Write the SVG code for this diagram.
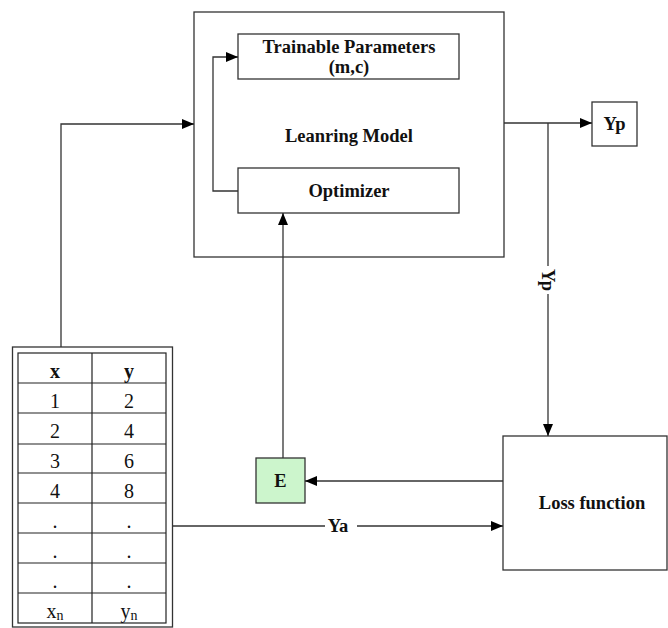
<svg xmlns="http://www.w3.org/2000/svg" width="668" height="628" viewBox="0 0 668 628">
<defs>
<marker id="ah" markerWidth="12" markerHeight="10" refX="12" refY="5" orient="auto" markerUnits="userSpaceOnUse">
<path d="M0,0 L12,5 L0,10 Z" fill="#000"/>
</marker>
<style>
.box{fill:#fff;stroke:#333;stroke-width:1.3}
.ln{fill:none;stroke:#333;stroke-width:1.3}
.lbl{font-family:"Liberation Serif","Times New Roman",serif;font-weight:bold;font-size:18.5px;fill:#111;text-anchor:middle}
.cell{font-family:"Liberation Serif","Times New Roman",serif;font-size:20px;fill:#111;text-anchor:middle}
.grid{fill:none;stroke:#222;stroke-width:1.2}
</style>
</defs>
<rect width="668" height="628" fill="#fff"/>
<g id="learning-model">
<rect class="box" x="194" y="12" width="310" height="245"/>
<text class="lbl" x="349" y="142">Leanring Model</text>
</g>
<g id="trainable-parameters">
<rect class="box" x="238" y="34" width="221" height="45"/>
<text class="lbl" x="349" y="53">Trainable Parameters</text>
<text class="lbl" x="349" y="73">(m,c)</text>
</g>
<g id="optimizer">
<rect class="box" x="238" y="168" width="221" height="45"/>
<text class="lbl" x="349" y="197">Optimizer</text>
</g>
<g id="yp">
<rect class="box" x="592" y="102" width="45" height="44"/>
<text class="lbl" x="614.5" y="130">Yp</text>
</g>
<g id="e">
<rect class="box" x="256" y="458" width="49" height="45" style="fill:#ccf5cc"/>
<text class="lbl" x="280.5" y="487">E</text>
</g>
<g id="loss-function">
<rect class="box" x="503" y="436" width="164" height="134"/>
<text class="lbl" x="592" y="509">Loss function</text>
</g>
<g id="data-table">
<rect class="box" x="12.5" y="347" width="160" height="280"/>
<rect class="grid" x="18" y="353" width="148" height="270"/>
<path class="grid" d="M92,353 V623 M18,383 H166 M18,413 H166 M18,444 H166 M18,473 H166 M18,503 H166 M18,533 H166 M18,563 H166 M18,593 H166"/>
<text class="cell" x="55" y="378" font-weight="bold">x</text>
<text class="cell" x="129" y="378" font-weight="bold">y</text>
<text class="cell" x="55" y="408">1</text><text class="cell" x="129" y="408">2</text>
<text class="cell" x="55" y="438">2</text><text class="cell" x="129" y="438">4</text>
<text class="cell" x="55" y="468">3</text><text class="cell" x="129" y="468">6</text>
<text class="cell" x="55" y="498">4</text><text class="cell" x="129" y="498">8</text>
<text class="cell" x="55" y="528">.</text><text class="cell" x="129" y="528">.</text>
<text class="cell" x="55" y="558">.</text><text class="cell" x="129" y="558">.</text>
<text class="cell" x="55" y="588">.</text><text class="cell" x="129" y="588">.</text>
<text class="cell" x="55" y="618">x<tspan font-size="14" dy="2">n</tspan></text>
<text class="cell" x="129" y="618">y<tspan font-size="14" dy="2">n</tspan></text>
</g>
<g id="connectors">
<path class="ln" d="M61,347 V124 H194" marker-end="url(#ah)"/>
<path class="ln" d="M238,191 H213 V57 H238" marker-end="url(#ah)"/>
<path class="ln" d="M504,123 H592" marker-end="url(#ah)"/>
<path class="ln" d="M548,123 V436" marker-end="url(#ah)"/>
<path class="ln" d="M283,458 V213" marker-end="url(#ah)"/>
<path class="ln" d="M503,481 H305" marker-end="url(#ah)"/>
<path class="ln" d="M173,526 H503" marker-end="url(#ah)"/>
<rect x="538" y="266" width="20" height="28" fill="#fff"/>
<text class="lbl" transform="translate(542,280) rotate(90)">Yp</text>
<rect x="325" y="516" width="32" height="20" fill="#fff"/>
<text class="lbl" x="338" y="532">Ya</text>
</g>
</svg>
